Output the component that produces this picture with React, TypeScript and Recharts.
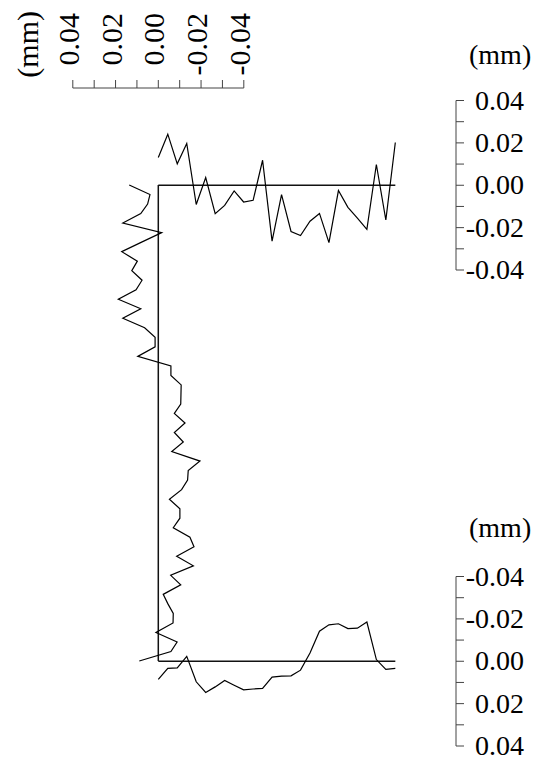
import { LineChart, Line, XAxis, YAxis, ReferenceLine } from 'recharts';

// measuring stations along each flange (26) and along the web (51)
const flangeStations = [
  0, 1, 2, 3, 4, 5, 6, 7, 8, 9, 10, 11, 12, 13, 14, 15, 16, 17, 18, 19, 20, 21, 22, 23, 24, 25,
];
const webStations = [
  0, 1, 2, 3, 4, 5, 6, 7, 8, 9, 10, 11, 12, 13, 14, 15, 16, 17, 18, 19, 20, 21, 22, 23, 24, 25,
  26, 27, 28, 29, 30, 31, 32, 33, 34, 35, 36, 37, 38, 39, 40, 41, 42, 43, 44, 45, 46, 47, 48, 49, 50,
];

// form deviation in mm (positive = outward from the section)
const topFlangeDev = [
  0.0131, 0.0241, 0.0101, 0.0197, -0.0091, 0.0036, -0.0134, -0.0095, -0.0027, -0.0079, -0.0071,
  0.0118, -0.0264, -0.0044, -0.0218, -0.0237, -0.017, -0.0133, -0.0271, -0.0025, -0.0104, -0.0155,
  -0.0208, 0.0098, -0.0164, 0.0202,
];
const bottomFlangeDev = [
  0.0086, 0.0034, 0.0031, -0.0023, 0.0097, 0.0147, 0.0121, 0.0091, 0.0113, 0.0135, 0.0131, 0.0128,
  0.0075, 0.007, 0.0069, 0.0042, -0.0039, -0.0142, -0.0172, -0.0177, -0.0154, -0.0156, -0.0185,
  -0.0008, 0.0038, 0.0034,
];
const webDev = [
  0.0136, 0.0039, 0.005, 0.0082, 0.0166, -0.0016, 0.0078, 0.0171, 0.0098, 0.0124, 0.0076, 0.0104,
  0.0187, 0.0082, 0.0166, 0.0064, 0.0015, 0.0015, 0.0096, -0.0059, -0.0059, -0.0107, -0.0106,
  -0.0105, -0.0075, -0.0125, -0.0075, -0.0117, -0.0063, -0.0195, -0.014, -0.0137, -0.0109, -0.0052,
  -0.0101, -0.0101, -0.007, -0.0148, -0.0167, -0.0086, -0.0164, -0.0058, -0.0105, -0.0023, -0.0045,
  -0.007, -0.0069, 0.0011, -0.0088, -0.0059, 0.0089,
];

const devTicks = [-0.04, -0.03, -0.02, -0.01, 0, 0.01, 0.02, 0.03, 0.04];
const unitText = '(mm)';

const topData = flangeStations.map((pos, i) => ({ pos, dev: topFlangeDev[i] }));
const bottomData = flangeStations.map((pos, i) => ({ pos, dev: bottomFlangeDev[i] }));
const webData = webStations.map((pos, i) => ({ pos, dev: webDev[i] }));

const FONT = '"Liberation Serif", "Times New Roman", serif';
const FONT_SIZE = 28;
const TOP_FONT_SIZE = 30;
const AXIS_COLOR = '#444';
const W = 536;
const H = 758;

const flangeEnd = flangeStations[flangeStations.length - 1];
const webEnd = webStations[webStations.length - 1];

const isLabelled = (v: number) => Math.round(v * 100) % 2 === 0;

function RightTick(props: any) {
  const { x, y, payload } = props;
  const v = payload.value as number;
  if (!isLabelled(v)) return <g />;
  return (
    <text x={x + 58} y={y} dy="0.33em" textAnchor="end" fontFamily={FONT} fontSize={FONT_SIZE} fill="#000">
      {v.toFixed(2)}
    </text>
  );
}

function TopTick(props: any) {
  const { x, payload } = props;
  const v = payload.value as number;
  if (!isLabelled(v)) return <g />;
  return (
    <text
      transform={`translate(${x + 6}, 13) rotate(-90)`}
      textAnchor="end"
      fontFamily={FONT}
      fontSize={TOP_FONT_SIZE}
      fill="#000"
    >
      {v.toFixed(2)}
    </text>
  );
}

function UnitLabel({ at, rotated }: { at: [number, number]; rotated?: boolean }) {
  return (
    <text
      transform={`translate(${at[0]}, ${at[1]})${rotated ? ' rotate(-90)' : ''}`}
      textAnchor={rotated ? 'end' : 'start'}
      fontFamily={FONT}
      fontSize={rotated ? TOP_FONT_SIZE : FONT_SIZE}
      fill="#000"
    >
      {unitText}
    </text>
  );
}

const layer = { position: 'absolute' as const, left: 0, top: 0 };

export default function App() {
  return (
    <div style={{ position: 'absolute', left: 0, top: 0, width: W, height: H, background: '#fff' }}>
      {/* top flange */}
      <LineChart width={W} height={H} data={topData} style={layer} margin={{ top: 100.5, right: 0, bottom: H - 270, left: 158.3 }}>
        <XAxis type="number" dataKey="pos" domain={[0, 31.4]} hide />
        <YAxis
          type="number"
          orientation="right"
          width={80}
          domain={[-0.04, 0.04]}
          ticks={devTicks}
          interval={0}
          tickSize={8}
          tickMargin={2}
          stroke={AXIS_COLOR}
          tick={<RightTick />}
          label={<UnitLabel at={[469, 64]} />}
        />
        <ReferenceLine segment={[{ x: 0, y: 0 }, { x: flangeEnd, y: 0 }]} stroke="#111" strokeWidth={1.5} />
        <Line type="linear" dataKey="dev" stroke="#000" strokeWidth={1.2} dot={false} isAnimationActive={false} />
      </LineChart>

      {/* bottom flange */}
      <LineChart width={W} height={H} data={bottomData} style={layer} margin={{ top: 576.5, right: 0, bottom: H - 746, left: 158.3 }}>
        <XAxis type="number" dataKey="pos" domain={[0, 31.4]} hide />
        <YAxis
          type="number"
          orientation="right"
          width={80}
          reversed
          domain={[-0.04, 0.04]}
          ticks={devTicks}
          interval={0}
          tickSize={8}
          tickMargin={2}
          stroke={AXIS_COLOR}
          tick={<RightTick />}
          label={<UnitLabel at={[469, 537]} />}
        />
        <ReferenceLine segment={[{ x: 0, y: 0 }, { x: flangeEnd, y: 0 }]} stroke="#111" strokeWidth={1.5} />
        <Line type="linear" dataKey="dev" stroke="#000" strokeWidth={1.2} dot={false} isAnimationActive={false} />
      </LineChart>

      {/* web */}
      <LineChart
        width={W}
        height={H}
        data={webData}
        layout="vertical"
        style={layer}
        margin={{ top: 0, right: W - 243.8, bottom: H - 661, left: 72.8 }}
      >
        <XAxis
          type="number"
          orientation="top"
          height={88}
          reversed
          domain={[-0.04, 0.04]}
          ticks={devTicks}
          interval={0}
          tickSize={8}
          tickMargin={2}
          stroke={AXIS_COLOR}
          tick={<TopTick />}
          label={<UnitLabel at={[38, 11]} rotated />}
        />
        <YAxis type="number" dataKey="pos" domain={[-10.19, webEnd]} hide />
        <ReferenceLine segment={[{ x: 0, y: 0 }, { x: 0, y: webEnd }]} stroke="#111" strokeWidth={1.5} />
        <Line type="linear" dataKey="dev" stroke="#000" strokeWidth={1.2} dot={false} isAnimationActive={false} />
      </LineChart>
    </div>
  );
}
